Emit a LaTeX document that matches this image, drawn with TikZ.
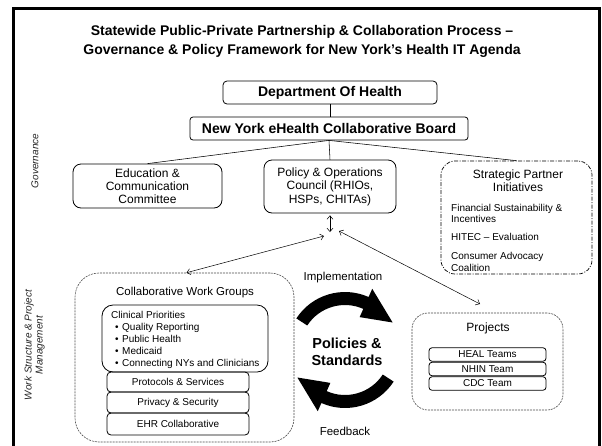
\documentclass[tikz,border=0pt]{standalone}
\usepackage{fontspec}
\setmainfont{Liberation Sans}
\usetikzlibrary{arrows.meta,calc}
\newcommand\myfs[2]{\fontsize{#1pt}{#2pt}\selectfont}
\begin{document}
\begin{tikzpicture}[x=1pt,y=1pt,
  box/.style={draw, line width=0.8pt, inner sep=0pt, align=center},
  txt/.style={inner sep=0pt},
  dashbox/.style={draw=black!70, line width=0.6pt, dash pattern=on 2pt off 1pt, inner sep=0pt},
  conn/.style={line width=0.55pt},
  dbl/.style={line width=0.5pt, {Straight Barb[length=3.5pt,width=6pt]}-{Straight Barb[length=3.5pt,width=6pt]}},
  bigarrow/.style={fill=black}]
\clip (0,0) rectangle (602,-445);
\fill[white] (0,0) rectangle (602,-445);
% frame
\draw[line width=3pt] (13,-8) rectangle (599,-470);
% title
\node[txt, font=\bfseries\myfs{14}{18.5}, align=center] (title) at (302,-41.4)
  {Statewide Public-Private Partnership \& Collaboration Process –\\Governance \& Policy Framework for New York’s Health IT Agenda};
% side labels
\node[txt, rotate=90, font=\itshape\myfs{10}{11}, text=black!85] (gov) at (35,-161) {Governance};
\node[txt, rotate=90, align=center, font=\itshape\myfs{10}{11}, text=black!85] (work) at (34.5,-345) {Work Structure \& Project\\Management};
% governance chart
\node[box, rounded corners=4pt, minimum width=214pt, minimum height=23pt, font=\bfseries\myfs{14}{16}] (doh) at (330,-92.5) {Department Of Health};
\node[box, rounded corners=3pt, minimum width=278pt, minimum height=23pt, font=\bfseries\myfs{14}{16}] (board) at (329,-128.5) {New York eHealth Collaborative Board};
\draw[conn] (doh.south) -- (doh.south |- board.north);
\node[box, rounded corners=8pt, minimum width=149pt, minimum height=44pt, font=\myfs{12}{13}] (edu) at (147.5,-186) {Education \&\\Communication\\Committee};
\node[box, rounded corners=8pt, minimum width=132pt, minimum height=53pt, font=\myfs{12}{13.5}] (pol) at (330,-186.5) {Policy \& Operations\\Council (RHIOs,\\HSPs, CHITAs)};
\node[draw, line width=0.7pt, dash pattern=on 4pt off 1.5pt on 1pt off 1.5pt, rounded corners=14pt, inner sep=0pt, minimum width=151pt, minimum height=113pt] (strat) at (516.5,-217.5) {};
\node[txt, font=\myfs{12}{13}, align=center] (stratt) at (518,-181) {Strategic Partner\\Initiatives};
\node[txt, anchor=west, align=left, font=\myfs{10}{11}] (fin) at (451,-213.5) {Financial Sustainability \&\\Incentives};
\node[txt, anchor=west, font=\myfs{10}{11}] (hitec) at (451,-237) {HITEC – Evaluation};
\node[txt, anchor=west, align=left, font=\myfs{10}{12}] (cons) at (451,-261.5) {Consumer Advocacy\\Coalition};
\draw[conn] (board.south) -- (edu.north);
\draw[conn] (board.south) -- (pol.north);
\draw[conn] (board.south) -- (strat.north);
% work groups
\node[dashbox, rounded corners=24pt, minimum width=219pt, minimum height=169pt] (collab) at (184.5,-357.5) {};
\node[txt, font=\myfs{11.5}{13}] (collabt) at (185,-293) {Collaborative Work Groups};
\node[box, rounded corners=11pt, minimum width=166pt, minimum height=67pt] (clin) at (185,-338.5) {};
\node[txt, anchor=north west, align=left, font=\myfs{10}{11.8}] (clint) at (111,-311.5)
  {Clinical Priorities\\
   \hbox to 11pt{\hskip4pt•\hss}Quality Reporting\\
   \hbox to 11pt{\hskip4pt•\hss}Public Health\\
   \hbox to 11pt{\hskip4pt•\hss}Medicaid\\
   \hbox to 11pt{\hskip4pt•\hss}Connecting NYs and Clinicians};
\node[box, rounded corners=4pt, minimum width=142pt, minimum height=20pt, font=\myfs{10}{12}] (prot) at (178,-382) {Protocols \& Services};
\node[box, rounded corners=4pt, minimum width=142pt, minimum height=21pt, font=\myfs{10}{12}] (priv) at (178,-402.5) {Privacy \& Security};
\node[box, rounded corners=4pt, minimum width=142pt, minimum height=22pt, font=\myfs{10}{12}] (ehr) at (178,-424) {EHR Collaborative};
% projects
\node[dashbox, rounded corners=16pt, minimum width=151pt, minimum height=97pt] (proj) at (487.5,-361.5) {};
\node[txt, font=\myfs{12}{13}] (projt) at (488,-328) {Projects};
\node[box, rounded corners=3pt, minimum width=117pt, minimum height=13.5pt, font=\myfs{10}{11}] (heal) at (487.5,-354.5) {HEAL Teams};
\node[box, rounded corners=3pt, minimum width=117pt, minimum height=13.5pt, font=\myfs{10}{11}] (nhin) at (487.5,-369) {NHIN Team};
\node[box, rounded corners=3pt, minimum width=117pt, minimum height=13.5pt, font=\myfs{10}{11}] (cdc) at (487.5,-383.5) {CDC Team};
% hub connectors
\coordinate (hubV) at (330,-232);
\coordinate (hubL) at (324,-236);
\coordinate (hubR) at (339,-231);
\coordinate (projend) at (480,-304);
\draw[dbl] ([yshift=-2pt]pol.south) -- (hubV);
\draw[dbl] ([xshift=2pt]collab.north) -- (hubL);
\draw[dbl] (hubR) -- (projend);
% cycle
\coordinate (cyc) at (345,-350);
\fill[bigarrow] ($(cyc)+(147:58)$) arc[start angle=147, end angle=66, radius=58] -- ($(cyc)+(66:67)$) -- ($(cyc)+(30:55)$) -- ($(cyc)+(66:36)$) -- ($(cyc)+(66:45)$) arc[start angle=66, end angle=147, radius=45] -- cycle;
\fill[bigarrow] ($(cyc)+(327:58)$) arc[start angle=327, end angle=246, radius=58] -- ($(cyc)+(246:67)$) -- ($(cyc)+(210:55)$) -- ($(cyc)+(246:36)$) -- ($(cyc)+(246:45)$) arc[start angle=246, end angle=327, radius=45] -- cycle;
\node[txt, font=\bfseries\myfs{14.5}{17}, align=center] (ps) at (347,-352) {Policies \&\\Standards};
\node[txt, font=\myfs{11.5}{13}] (impl) at (343,-278) {Implementation};
\node[txt, font=\myfs{11.5}{13}] (feed) at (345,-431) {Feedback};
\end{tikzpicture}
\end{document}
